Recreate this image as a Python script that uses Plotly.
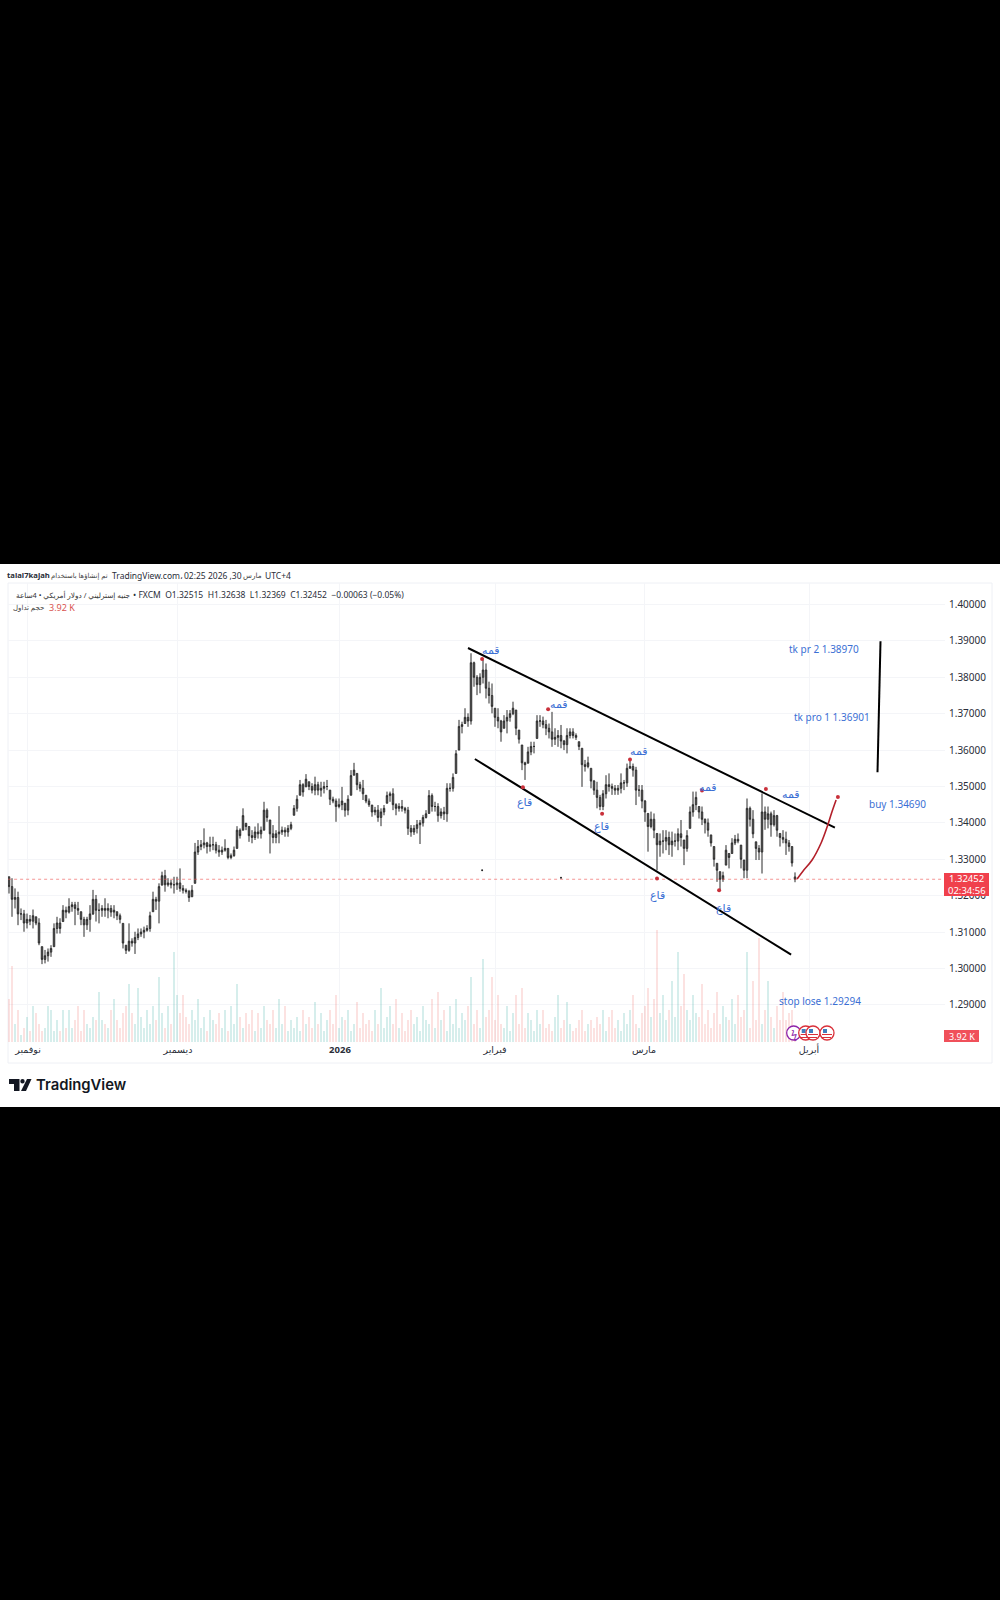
import plotly.graph_objects as go

BASE = 1.30
highs_pips = [252,248,220,211,165,161,151,147,162,142,138,60,51,55,64,124,142,138,174,170,193,183,183,183,156,142,142,174,216,202,179,174,193,179,174,174,156,151,124,64,124,83,101,110,110,115,119,156,211,197,234,266,271,248,243,252,252,275,229,220,216,229,345,
353,353,385,348,362,362,348,339,335,355,330,316,335,391,385,440,399,390,380,390,399,390,458,440,408,394,380,446,390,388,394,403,449,476,518,509,534,513,509,527,513,513,513,518,490,472,467,467,499,454,476,545,565,536,513,518,476,467,449,444,449,440,449,486,486,495,454,454,463,444,444,394,394,408,408,422,435,490,481,458,454,440,444,509,509,536,600,
683,678,715,701,866,843,806,811,848,838,788,783,715,715,683,696,710,710,733,710,655,614,568,609,623,623,696,696,692,683,673,705,660,655,669,628,660,660,660,646,623,605,573,582,550,518,513,477,490,531,536,508,504,504,536,518,563,573,563,554,504,
504,463,426,431,426,371,371,380,380,376,376,371,385,408,353,380,445,486,486,445,445,412,412,367,335,289,266,266,339,316,358,367,371,339,298,467,445,435,348,339,481,445,445,431,435,422,371,380,376,353,335,264]
lows_pips = [206,142,165,119,133,101,110,119,110,119,64,12,14,19,32,60,96,96,129,138,151,156,119,147,119,87,106,101,147,129,124,142,142,138,142,138,133,124,55,40,46,60,40,78,87,83,101,101,156,161,124,229,211,225,220,206,216,211,206,206,183,197,234,
312,325,330,316,321,325,316,307,312,321,300,300,307,330,357,380,380,348,344,353,357,357,380,403,316,344,344,344,367,362,362,380,421,431,476,472,499,490,481,476,476,472,481,490,449,454,403,440,435,417,421,476,531,490,486,463,454,444,417,421,403,391,421,454,458,435,421,431,431,426,367,362,367,371,342,390,412,426,431,431,403,412,408,403,486,486,536,
600,646,673,664,670,774,751,756,783,742,728,701,664,660,623,660,646,678,696,641,618,545,518,564,586,591,632,664,660,641,632,609,614,609,605,600,591,632,632,628,600,499,541,550,495,477,440,435,435,467,486,477,477,477,481,490,499,550,527,449,472,
440,403,321,385,358,270,307,316,325,312,307,335,325,335,284,321,385,417,435,412,394,371,362,335,280,238,215,238,284,275,316,339,344,275,248,248,390,358,298,298,261,381,385,362,390,362,335,344,312,321,280,237]
closes_pips = [225,190,195,150,150,125,135,130,145,125,70,25,35,45,55,110,125,110,160,155,170,175,165,160,135,120,135,150,190,160,160,165,160,165,155,160,145,135,70,50,75,70,85,95,100,105,110,145,190,185,225,255,230,235,230,230,235,220,215,212,195,215,320,
335,340,345,335,340,340,325,320,325,330,305,310,325,380,365,420,390,365,360,375,370,380,435,415,370,360,370,375,380,375,385,395,440,465,505,485,520,500,490,505,490,495,500,500,465,460,445,450,460,435,465,530,545,505,495,480,460,450,430,435,415,430,440,475,480,450,440,445,440,435,385,375,385,395,400,415,425,475,445,445,420,430,425,495,495,525,590,
665,670,690,680,840,800,780,800,820,770,750,720,690,680,650,680,690,700,715,660,630,565,560,595,610,610,680,680,670,660,650,630,635,640,625,615,640,650,640,635,610,560,555,565,515,490,470,445,480,505,500,495,490,495,510,510,550,555,545,490,490,
460,430,390,410,380,340,350,350,360,340,350,350,370,360,330,365,430,450,470,430,410,400,380,345,300,270,245,255,325,305,345,355,350,300,270,440,410,370,330,320,430,410,425,395,420,380,360,355,345,335,290,245]
volumes_k = [12,21,5,9,2,4,7,3,10,8, 5,3,4,10,9,3,6,3,9,4, 9,4,6,10,3,9,5,4,7,6, 14,6,5,4,9,12,6,4,8,10,
16,8,5,15,7,4,9,5,10,6, 18,8,4,10,5,25,13,8,13,7, 5,9,6,12,4,7,3,9,6,5, 8,4,9,3,10,5,16,7,4,8,
5,9,3,8,4,10,6,5,9,4, 12,5,10,3,6,4,7,3,9,5, 7,4,11,5,8,3,6,9,5,13, 4,7,6,9,3,5,11,4,8,5,
6,3,9,5,15,4,7,10,5,12, 4,8,3,6,9,5,7,3,10,6, 5,12,4,14,6,9,3,10,5,12, 4,8,6,10,18,5,9,4,23,7,
9,18,6,13,5,4,10,3,8,13, 5,15,4,8,6,3,9,5,9,4, 5,3,7,13,4,6,11,5,3,4, 6,9,3,5,6,4,7,5,9,3,
7,9,4,6,3,8,5,9,13,5, 4,8,10,15,7,12,31,8,13,6, 9,17,7,25,10,19,9,6,13,8, 7,16,5,9,4,8,14,5,10,7,
6,12,5,13,7,9,25,4,17,6, 29,5,9,17,7,4,10,6,14,6, 8,9,3.92]

price_ticks = [1.29,1.30,1.31,1.32,1.33,1.34,1.35,1.36,1.37,1.38,1.39,1.40]
month_positions = [6.33,56.33,110.33,162,211.67,266.67]
month_labels = ["نوفمبر","ديسمبر","<b>2026</b>","فبراير","مارس","أبريل"]
last_price = 1.32452

upper_x, upper_p = [153,275.3], [1.38805,1.33868]
lower_x, lower_p = [155.3,260.7], [1.35755,1.30379]
target_x, target_p = [290.5,289.5], [1.38990,1.35390]
path_x = [262.7,264.7,267.7,270.7,272.7,274.3,275.7]
path_p = [1.32459,1.32680,1.32980,1.33448,1.33887,1.34300,1.34629]
top_x, top_p = [157.7,179.7,207,231,252.3], [1.38500,1.37120,1.35740,1.34890,1.34930]
bottom_x, bottom_p = [171.3,197.7,216,236.7], [1.34980,1.34250,1.32470,1.32150]
tip_x, tip_p = [276.3], [1.34710]
stray_x, stray_p = [157.7,184], [1.32700,1.32490]

n = len(closes_pips)
idx = list(range(n))
closes = [BASE + v / 10000 for v in closes_pips]
highs = [BASE + v / 10000 for v in highs_pips]
lows = [BASE + v / 10000 for v in lows_pips]
opens = [1.32515 if i == n - 1 else min(highs[i], max(lows[i], closes[i - 1] if i else highs[i])) for i in idx]
vol_colors = ["rgba(38,166,154,0.19)" if closes[i] >= opens[i] else "rgba(239,83,80,0.17)" for i in idx]

TOP, BOT, LEFT, RIGHT = 583, 1042, 8, 945
W, H = 1000, 1600
def fx(x): return x / W
def fy(y): return 1 - y / H
def price_at(y): return 1.33 + (859.3 - y) / 3640

fig = go.Figure()
fig.add_trace(go.Bar(x=idx, y=volumes_k, yaxis="y2", marker=dict(color=vol_colors, line_width=0), width=0.36, showlegend=False))
fig.add_trace(go.Candlestick(x=idx, open=opens, high=highs, low=lows, close=closes, whiskerwidth=0,
    increasing=dict(line=dict(color="#2b2b2b", width=1), fillcolor="#7a7a7a"),
    decreasing=dict(line=dict(color="#2b2b2b", width=1), fillcolor="#7a7a7a"), showlegend=False))
fig.add_trace(go.Scatter(x=[-0.3, 312], y=[last_price, last_price], mode="lines", line=dict(color="#ef5350", width=1, dash="dot"), opacity=.6, showlegend=False))
for xs, ps in [(upper_x, upper_p), (lower_x, lower_p)]:
    fig.add_trace(go.Scatter(x=xs, y=ps, mode="lines", line=dict(color="black", width=2), showlegend=False))
fig.add_trace(go.Scatter(x=target_x, y=target_p, mode="lines", line=dict(color="black", width=2), showlegend=False))
fig.add_trace(go.Scatter(x=path_x, y=path_p, mode="lines", line=dict(color="#b3202a", width=1.6, shape="spline"), showlegend=False))
fig.add_trace(go.Scatter(x=top_x + bottom_x + tip_x, y=top_p + bottom_p + tip_p, mode="markers", marker=dict(color="#c9303a", size=4), showlegend=False))
fig.add_trace(go.Scatter(x=stray_x, y=stray_p, mode="markers", marker=dict(color="#222222", size=2), showlegend=False))

notes = []
def note(text, x, y, size=10, color="#3c3f48", anchor="left", family="Noto Sans, DejaVu Sans", weight=None):
    font = dict(size=size, color=color, family=family)
    if weight:
        font["weight"] = weight
    notes.append(dict(text=text, x=fx(x), y=fy(y), xref="paper", yref="paper", xanchor=anchor, yanchor="middle",
                      showarrow=False, font=font, borderpad=0, borderwidth=0))

note("<b>talal7kajah</b>", 7, 575, 7.7, "#2a2e39")
note("تم إنشاؤها باستخدام", 108, 575, 6.8, "#444", "right")
note("TradingView.com،", 112, 575, 8.5, "#2a2e39")
note("02:25 2026 ,30", 184, 575, 8.5, "#2a2e39")
note("مارس", 262, 575, 7.3, "#444", "right")
note("UTC+4", 265, 575, 8.5, "#2a2e39")
note("جنيه إسترليني / دولار أمريكي • 4ساعة", 130, 595, 7.3, "#333", "right")
note("• FXCM\u00a0\u00a0O1.32515\u00a0\u00a0H1.32638\u00a0\u00a0L1.32369\u00a0\u00a0C1.32452\u00a0\u00a0−0.00063 (−0.05%)", 133, 595, 8.5, "#2a2e39")
note("حجم تداول", 44, 607.5, 7, "#444", "right")
note("3.92 K", 49, 607.5, 9, "#d9534f")

BLUE = "#3b6fd4"
for t, x, y in [("قمه",491,649),("قمه",559,704),("قمه",639,750),("قمه",708,786),("قمه",791,793),
                ("قاع",524,801),("قاع",601,825.5),("قاع",657,895),("قاع",723.5,907)]:
    note(t, x, y, 11, BLUE, "center")
for t, x, y in [("tk pr 2 1.38970",824,649),("tk pro 1 1.36901",832,717),("buy 1.34690",897,804),("stop lose 1.29294",820,1001)]:
    note(t, x, y, 10, BLUE, "center")

note("1.32452", 966.5, 879, 9.5, "white", "center")
note("02:34:56", 966.5, 890, 9.5, "white", "center")
note("3.92 K", 961.5, 1036, 9, "white", "center")
note("TradingView", 36, 1085, 14.8, "#131722", family="Inter, Noto Sans", weight=600)
note("ϟ", 793.7, 1033, 11, "#8e24aa", "center")

def rect(x0, y0, x1, y1, fill, line=None, layer="above", width=1):
    return dict(type="rect", xref="paper", yref="paper", x0=fx(x0), x1=fx(x1), y0=fy(y0), y1=fy(y1), fillcolor=fill, layer=layer,
                line=dict(color=line, width=width) if line else dict(width=0))
shapes = [rect(0, 564, 1000, 1107, "white", layer="below"),
          rect(8, 583, 992, 1063, "rgba(0,0,0,0)", "#eef0f5", "below"),
          rect(944, 873, 989, 896, "#f0404c"), rect(944, 1030, 979, 1042, "#f0505a")]
for cx, rim in [(793.7, "#8e24aa"), (805.7, "#d9303a"), (813, "#d9303a"), (827, "#d9303a")]:
    shapes.append(dict(type="circle", xref="paper", yref="paper", x0=fx(cx-7), x1=fx(cx+7), y0=fy(1026), y1=fy(1040), fillcolor="white", line=dict(color=rim, width=1.3), layer="above"))
    if rim != "#8e24aa":
        shapes.append(rect(cx-5, 1034, cx+5, 1035, "#d9303a"))
        shapes.append(rect(cx-5, 1037, cx+4, 1038, "#d9303a"))
        shapes.append(rect(cx-4, 1029, cx, 1033, "#3f7fbf"))
def path(points):
    return dict(type="path", xref="paper", yref="paper", layer="above", fillcolor="#131722", line=dict(width=0),
                path="M" + " L".join(f"{fx(a):.5f},{fy(b):.5f}" for a, b in points) + " Z")
shapes += [path([(9,1079),(19.5,1079),(19.5,1091),(14,1091),(14,1084),(9,1084)]),
           path([(27,1079),(31.5,1079),(26,1091),(21,1091)]),
           dict(type="circle", xref="paper", yref="paper", x0=fx(20.3), x1=fx(24.7), y0=fy(1079), y1=fy(1083.4), fillcolor="#131722", line=dict(width=0), layer="above")]

domain_y = [fy(BOT), fy(TOP)]
GRID = "#f4f5f8"
fig.update_layout(
    width=W, height=H, autosize=False, margin=dict(l=0, r=0, t=0, b=0), paper_bgcolor="black", plot_bgcolor="white",
    showlegend=False, bargap=0, shapes=shapes, annotations=notes, hovermode=False,
    xaxis=dict(domain=[fx(LEFT), fx(RIGHT)], range=[-1/3, 312], type="linear", rangeslider=dict(visible=False), tickmode="array",
               tickvals=month_positions, ticktext=month_labels, showgrid=True, gridcolor=GRID, zeroline=False, showline=False, ticks="",
               tickfont=dict(size=9.5, color="#2a2e39", family="Noto Sans, DejaVu Sans"), anchor="y"),
    yaxis=dict(domain=domain_y, range=[price_at(BOT), price_at(TOP)], overlaying="y2", side="right", tickmode="array", tickvals=price_ticks,
               ticktext=[f"{p:.5f}" for p in price_ticks], showgrid=True, gridcolor=GRID, zeroline=False, showline=False, ticks="", ticklabelstandoff=3,
               tickfont=dict(size=10, color="#2a2e39", family="Noto Sans, DejaVu Sans"), anchor="x"),
    yaxis2=dict(domain=domain_y, range=[0, 127.5], visible=False, anchor="x", fixedrange=True),
)
fig.write_html("out.html", config=dict(displayModeBar=False), post_script="document.body.style.margin='0';document.body.style.background='black';document.documentElement.style.overflow='hidden';")
